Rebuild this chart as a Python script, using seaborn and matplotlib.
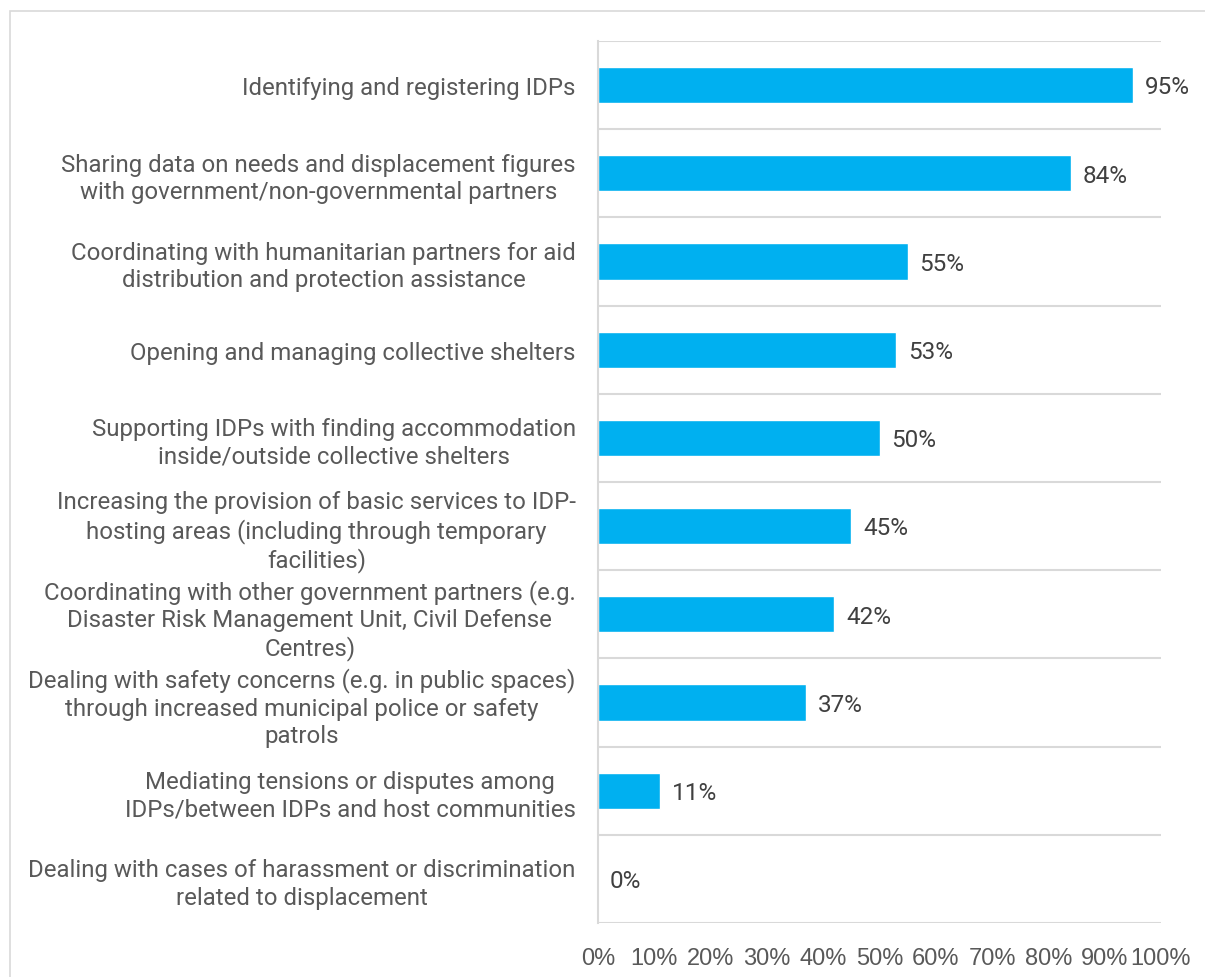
import matplotlib
matplotlib.use("Agg")
import matplotlib.pyplot as plt
import seaborn as sns
import pandas as pd
from matplotlib.patches import Rectangle
from matplotlib.ticker import FuncFormatter, MultipleLocator

categories = [
    "Identifying and registering IDPs",
    "Sharing data on needs and displacement figures\nwith government/non-governmental partners",
    "Coordinating with humanitarian partners for aid\ndistribution and protection assistance",
    "Opening and managing collective shelters",
    "Supporting IDPs with finding accommodation\ninside/outside collective shelters",
    "Increasing the provision of basic services to IDP-\nhosting areas (including through temporary\nfacilities)",
    "Coordinating with other government partners (e.g.\nDisaster Risk Management Unit, Civil Defense\nCentres)",
    "Dealing with safety concerns (e.g. in public spaces)\nthrough increased municipal police or safety\npatrols",
    "Mediating tensions or disputes among\nIDPs/between IDPs and host communities",
    "Dealing with cases of harassment or discrimination\nrelated to displacement",
]
values = [95, 84, 55, 53, 50, 45, 42, 37, 11, 0]

df = pd.DataFrame({"task": categories, "share": values})

sns.set_theme(style="white")
plt.rcParams["font.family"] = ["Roboto", "DejaVu Sans"]

W, H = 1205, 978
fig = plt.figure(figsize=(W / 100, H / 100), dpi=100)
ax = fig.add_axes([598 / W, 1 - 924 / H, (1161 - 598) / W, (924 - 42) / H])

bar_color = "#00B0F0"
sns.barplot(data=df, x="share", y="task", orient="h", color=bar_color,
            width=0.41, saturation=1, ax=ax)

ax.set_xlim(0, 100)
ax.set_ylim(len(categories) - 0.5, -0.5)
ax.set_xlabel("")
ax.set_ylabel("")

# horizontal separators between categories
ax.set_yticks([i - 0.5 for i in range(len(categories) + 1)], minor=True)
ax.grid(False)
ax.grid(True, which="minor", axis="y", color="#D9D9D9", linewidth=1.5)
ax.tick_params(axis="y", which="both", length=0, pad=16)
for t in ax.get_yticklabels():
    t.set_fontsize(17.3)
    t.set_color("#595959")
    t.set_multialignment("center")
    t.set_linespacing(1.23)

ax.xaxis.set_major_locator(MultipleLocator(10))
ax.xaxis.set_major_formatter(FuncFormatter(lambda v, p: f"{v:.0f}%"))
ax.tick_params(axis="x", length=0, pad=17)
for t in ax.get_xticklabels():
    t.set_fontsize(17)
    t.set_family(["Liberation Sans", "DejaVu Sans"])
    t.set_color("#595959")

for side in ["top", "right", "bottom"]:
    ax.spines[side].set_visible(False)
ax.spines["left"].set_color("#D9D9D9")
ax.spines["left"].set_linewidth(1.5)

for i, v in enumerate(values):
    ax.text(v + 2.1, i + 0.02, f"{v}%", va="center", ha="left", fontsize=17.5,
            color="#404040")

# outer frame of the chart area
fig.patches.append(Rectangle((10 / W, -0.01), 1.0, 1 - 12 / H + 0.01,
                             transform=fig.transFigure, fill=False,
                             edgecolor="#D9D9D9", linewidth=1.2))

fig.savefig("out.png", dpi=100)
